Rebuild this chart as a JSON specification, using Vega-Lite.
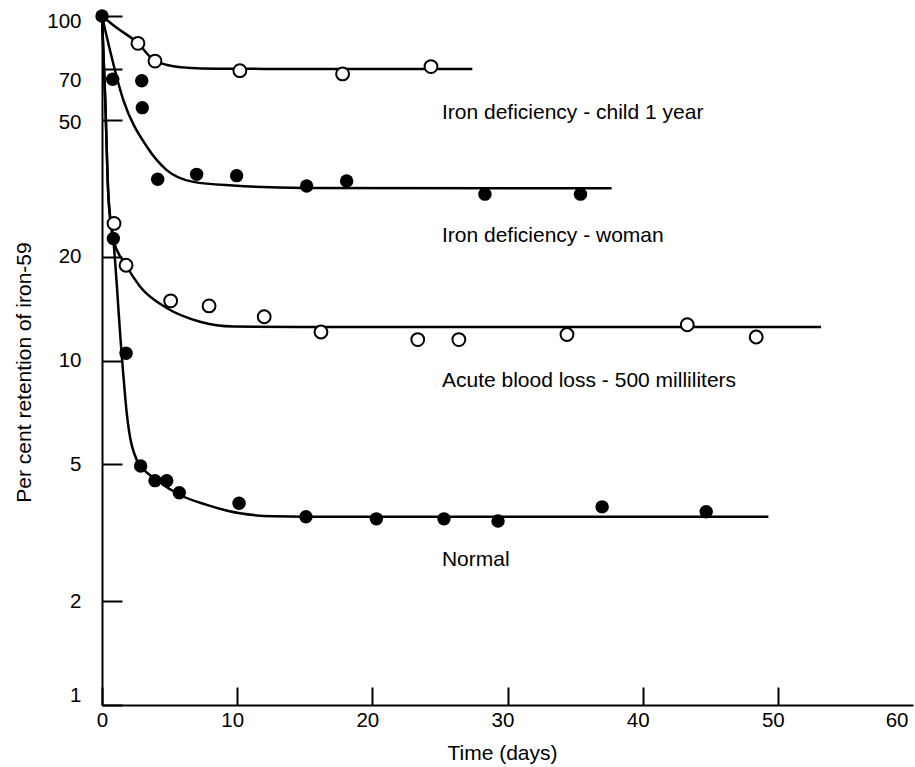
{
  "$schema": "https://vega.github.io/schema/vega-lite/v6.json",
  "autosize": {"type": "none"},
  "width": 811,
  "height": 689,
  "padding": {"left": 102, "top": 16, "right": 2, "bottom": 62},
  "background": "white",
  "config": {
    "view": {"stroke": null},
    "font": "Liberation Sans",
    "axis": {
      "grid": false,
      "domainColor": "black",
      "domainWidth": 2,
      "tickColor": "black",
      "tickWidth": 2,
      "labelColor": "black",
      "labelFont": "Liberation Sans",
      "labelFontSize": 20.5,
      "titleFont": "Liberation Sans",
      "titleFontSize": 21,
      "titleFontWeight": "normal",
      "titleColor": "black",
      "labelOverlap": false
    }
  },
  "datasets": {
    "curves": [
      {"series": "child", "x": 0, "y": 100},
      {"series": "child", "x": 1.04, "y": 92.7},
      {"series": "child", "x": 2.66, "y": 83.4},
      {"series": "child", "x": 3.77, "y": 74.8},
      {"series": "child", "x": 4.81, "y": 72.1},
      {"series": "child", "x": 6.29, "y": 70.8},
      {"series": "child", "x": 8.5, "y": 70.3},
      {"series": "child", "x": 14.6, "y": 70.2},
      {"series": "child", "x": 27.4, "y": 70.2},
      {"series": "woman", "x": 0, "y": 100},
      {"series": "woman", "x": 1.58, "y": 57.0},
      {"series": "woman", "x": 3.31, "y": 41.8},
      {"series": "woman", "x": 4.79, "y": 35.7},
      {"series": "woman", "x": 6.75, "y": 33.0},
      {"series": "woman", "x": 9.69, "y": 32.2},
      {"series": "woman", "x": 15, "y": 31.7},
      {"series": "woman", "x": 37.7, "y": 31.6},
      {"series": "acute", "x": 0, "y": 100},
      {"series": "acute", "x": 0.24, "y": 57},
      {"series": "acute", "x": 0.47, "y": 30.2},
      {"series": "acute", "x": 0.84, "y": 22.4},
      {"series": "acute", "x": 1.78, "y": 18.9},
      {"series": "acute", "x": 2.81, "y": 16.4},
      {"series": "acute", "x": 4.79, "y": 14.2},
      {"series": "acute", "x": 7.25, "y": 12.96},
      {"series": "acute", "x": 9.71, "y": 12.55},
      {"series": "acute", "x": 14.65, "y": 12.5},
      {"series": "acute", "x": 53.2, "y": 12.5},
      {"series": "normal", "x": 0, "y": 100},
      {"series": "normal", "x": 0.24, "y": 57},
      {"series": "normal", "x": 0.47, "y": 30.2},
      {"series": "normal", "x": 0.84, "y": 22.4},
      {"series": "normal", "x": 1.45, "y": 10.5},
      {"series": "normal", "x": 1.83, "y": 7.04},
      {"series": "normal", "x": 2.57, "y": 5.14},
      {"series": "normal", "x": 2.86, "y": 4.94},
      {"series": "normal", "x": 4.05, "y": 4.5},
      {"series": "normal", "x": 5.77, "y": 4.07},
      {"series": "normal", "x": 7.75, "y": 3.81},
      {"series": "normal", "x": 10.21, "y": 3.6},
      {"series": "normal", "x": 12.67, "y": 3.53},
      {"series": "normal", "x": 15.14, "y": 3.52},
      {"series": "normal", "x": 49.3, "y": 3.52}
    ],
    "points": [
      {"series": "start", "kind": "filled", "x": 0, "y": 100},
      {"series": "child", "kind": "open", "x": 2.66, "y": 83.3},
      {"series": "child", "kind": "open", "x": 3.92, "y": 74.0},
      {"series": "child", "kind": "open", "x": 10.2, "y": 69.4},
      {"series": "child", "kind": "open", "x": 17.8, "y": 67.9},
      {"series": "child", "kind": "open", "x": 24.34, "y": 71.3},
      {"series": "woman", "kind": "filled", "x": 0.79, "y": 65.5},
      {"series": "woman", "kind": "filled", "x": 2.94, "y": 64.9},
      {"series": "woman", "kind": "filled", "x": 2.98, "y": 54.2},
      {"series": "woman", "kind": "filled", "x": 4.12, "y": 33.6},
      {"series": "woman", "kind": "filled", "x": 7.0, "y": 34.7},
      {"series": "woman", "kind": "filled", "x": 9.96, "y": 34.4},
      {"series": "woman", "kind": "filled", "x": 15.14, "y": 32.1},
      {"series": "woman", "kind": "filled", "x": 18.1, "y": 33.2},
      {"series": "woman", "kind": "filled", "x": 28.33, "y": 30.4},
      {"series": "woman", "kind": "filled", "x": 35.4, "y": 30.4},
      {"series": "acute", "kind": "open", "x": 0.89, "y": 25.0},
      {"series": "acute", "kind": "open", "x": 1.78, "y": 18.9},
      {"series": "acute", "kind": "open", "x": 5.08, "y": 14.9},
      {"series": "acute", "kind": "open", "x": 7.92, "y": 14.4},
      {"series": "acute", "kind": "open", "x": 12.0, "y": 13.4},
      {"series": "acute", "kind": "open", "x": 16.2, "y": 12.1},
      {"series": "acute", "kind": "open", "x": 23.36, "y": 11.5},
      {"series": "acute", "kind": "open", "x": 26.4, "y": 11.5},
      {"series": "acute", "kind": "open", "x": 34.4, "y": 11.9},
      {"series": "acute", "kind": "open", "x": 43.3, "y": 12.7},
      {"series": "acute", "kind": "open", "x": 48.4, "y": 11.7},
      {"series": "normal", "kind": "filled", "x": 0.84, "y": 22.6},
      {"series": "normal", "kind": "filled", "x": 1.78, "y": 10.5},
      {"series": "normal", "kind": "filled", "x": 2.86, "y": 4.94},
      {"series": "normal", "kind": "filled", "x": 3.92, "y": 4.48},
      {"series": "normal", "kind": "filled", "x": 4.79, "y": 4.48},
      {"series": "normal", "kind": "filled", "x": 5.72, "y": 4.13},
      {"series": "normal", "kind": "filled", "x": 10.14, "y": 3.85},
      {"series": "normal", "kind": "filled", "x": 15.09, "y": 3.52},
      {"series": "normal", "kind": "filled", "x": 20.3, "y": 3.47},
      {"series": "normal", "kind": "filled", "x": 25.3, "y": 3.47},
      {"series": "normal", "kind": "filled", "x": 29.3, "y": 3.42},
      {"series": "normal", "kind": "filled", "x": 37.0, "y": 3.76},
      {"series": "normal", "kind": "filled", "x": 44.7, "y": 3.64}
    ],
    "labels": [
      {"label": "Iron deficiency - child 1 year", "x": 25.15, "y": 50.2},
      {"label": "Iron deficiency - woman", "x": 25.15, "y": 22.03},
      {"label": "Acute blood loss - 500 milliliters", "x": 25.15, "y": 8.39},
      {"label": "Normal", "x": 25.15, "y": 2.53}
    ]
  },
  "layer": [
    {
      "data": {"name": "curves"},
      "mark": {"type": "line", "color": "black", "strokeWidth": 2.5, "interpolate": "monotone"},
      "encoding": {
        "x": {
          "field": "x", "type": "quantitative",
          "scale": {"domain": [0, 60], "nice": false, "zero": false},
          "axis": {
            "values": [0, 10, 20, 30, 40, 50, 60],
            "tickSize": -18,
            "labelPadding": 23,
            "labelBaseline": "top",
            "labelAlign": {"condition": {"test": "datum.value == 60", "value": "right"}, "value": "center"},
            "labelOffset": {"condition": {"test": "datum.value == 0", "value": 0}, "value": -5},
            "tickOpacity": {"condition": {"test": "datum.value == 60", "value": 0}, "value": 1},
            "title": "Time (days)",
            "titleX": 400,
            "titleY": 54,
            "titleAlign": "center",
            "titleBaseline": "alphabetic"
          }
        },
        "y": {
          "field": "y", "type": "quantitative",
          "scale": {"type": "log", "domain": [1, 100], "nice": false},
          "axis": {
            "values": [1, 2, 5, 10, 20, 50, 70, 100],
            "tickSize": -20,
            "labelPadding": 41,
            "labelAlign": "right",
            "labelBaseline": "middle",
            "labelOffset": {"expr": "datum.value == 70 ? 11 : datum.value == 100 ? 5 : datum.value == 50 ? 3 : datum.value == 1 ? -10 : 0"},
            "title": "Per cent retention of iron-59",
            "titleAngle": -90,
            "titleX": -72,
            "titleY": 356,
            "titleAlign": "center",
            "titleBaseline": "alphabetic"
          }
        },
        "detail": {"field": "series"}
      }
    },
    {
      "mark": {"type": "rule", "color": "black", "strokeWidth": 2},
      "encoding": {"y": {"datum": 100, "type": "quantitative"}}
    },
    {
      "data": {"name": "points"},
      "transform": [{"filter": "datum.kind == 'filled'"}],
      "mark": {"type": "point", "shape": "circle", "filled": true, "color": "black", "size": 180, "opacity": 1},
      "encoding": {
        "x": {"field": "x", "type": "quantitative"},
        "y": {"field": "y", "type": "quantitative"}
      }
    },
    {
      "data": {"name": "points"},
      "transform": [{"filter": "datum.kind == 'open'"}],
      "mark": {"type": "point", "shape": "circle", "filled": true, "fill": "white", "stroke": "black", "strokeWidth": 2, "size": 165, "opacity": 1},
      "encoding": {
        "x": {"field": "x", "type": "quantitative"},
        "y": {"field": "y", "type": "quantitative"}
      }
    },
    {
      "data": {"name": "labels"},
      "mark": {"type": "text", "align": "left", "baseline": "alphabetic", "font": "Liberation Sans", "fontSize": 21, "color": "black"},
      "encoding": {
        "x": {"field": "x", "type": "quantitative"},
        "y": {"field": "y", "type": "quantitative"},
        "text": {"field": "label"}
      }
    }
  ]
}
